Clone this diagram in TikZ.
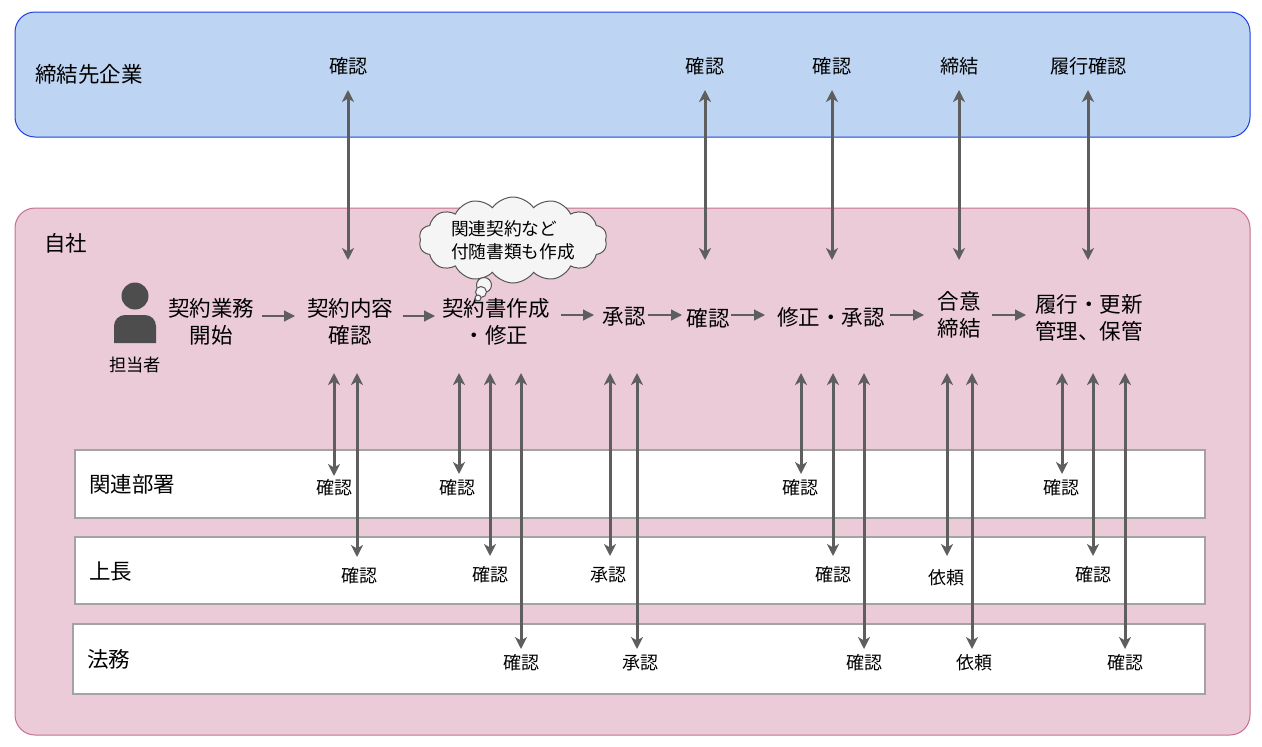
\documentclass[tikz,border=0pt]{standalone}
\usepackage{fontspec}
\setmainfont{Noto Sans CJK JP}
\usetikzlibrary{arrows.meta,shapes.symbols}
\definecolor{bluefill}{HTML}{BDD5F2}
\definecolor{blueline}{HTML}{1F3FE0}
\definecolor{pinkfill}{HTML}{EBCBD7}
\definecolor{pinkline}{HTML}{C4708F}
\definecolor{rowline}{HTML}{A3A3A3}
\definecolor{arrowgray}{HTML}{5E5E5E}
\definecolor{persongray}{HTML}{4D4D4D}
\definecolor{cloudfill}{HTML}{F5F5F5}
\definecolor{cloudline}{HTML}{555555}
\tikzset{
  area/.style={draw,rounded corners=20pt,line width=1pt},
  rowbox/.style={draw=rowline,fill=white,line width=1.6pt},
  stage/.style={font=\fontsize{21.5pt}{27pt}\selectfont,align=center,inner sep=0pt},
  head/.style={font=\fontsize{21.5pt}{27pt}\selectfont,anchor=west,inner sep=0pt},
  toplabel/.style={font=\fontsize{19.2pt}{23pt}\selectfont,inner sep=0pt},
  rowlabel/.style={font=\fontsize{18pt}{22pt}\selectfont,inner sep=0pt},
  bubble/.style={draw=cloudline,fill=cloudfill,line width=1pt,circle,inner sep=0pt},
  twoway/.style={{Stealth[length=12pt,width=12pt,inset=3.5pt]}-{Stealth[length=12pt,width=12pt,inset=3.5pt]},arrowgray,line width=3pt},
  flow/.style={-{Triangle[length=11pt,width=11pt]},arrowgray,line width=1.2pt}
}
\begin{document}
\begin{tikzpicture}[x=1pt,y=-1pt]
\useasboundingbox (0,0) rectangle (1262,747);

\draw[area,fill=bluefill,draw=blueline] (15,12) rectangle (1250,137);
\draw[area,fill=pinkfill,draw=pinkline] (15,208) rectangle (1250,735);

\draw[rowbox] (75,450) rectangle (1205,518);
\draw[rowbox] (75,537) rectangle (1205,604);
\draw[rowbox] (73,624) rectangle (1205,694);

\node[head] (kigyo) at (35,74) {締結先企業};
\node[head] (jisha) at (44,243) {自社};
\node[head] (kanren) at (89,484) {関連部署};
\node[head] (joucho) at (89,572) {上長};
\node[head] (houmu) at (87,659) {法務};

\foreach \nm/\x/\txt in {a/348.5/確認,b/705/確認,c/832/確認,d/959.5/締結,e/1088.5/履行確認}
\node[toplabel] (top\nm) at (\x,66) {\txt};

\fill[persongray] (135,296) circle (13.5);
\fill[persongray] (114,343) -- (114,331) [rounded corners=11pt] -- (114,315) -- (156,315) [sharp corners] -- (156,343) -- cycle;
\node[font=\fontsize{17.3pt}{21pt}\selectfont,inner sep=0pt] (tantou) at (135,365) {担当者};

\node[stage] (kaishi) at (211,322) {契約業務\\開始};
\node[stage] (naiyou) at (350,322) {契約内容\\確認};
\node[stage] (sakusei) at (496,322) {契約書作成\\・修正};
\node[stage] (shounin) at (624,317) {承認};
\node[stage] (kakunin) at (708,318) {確認};
\node[stage] (shusei) at (831,317) {修正・承認};
\node[stage] (goui) at (959,315) {合意\\締結};
\node[stage] (rikou) at (1089,318) {履行・更新\\管理、保管};

\foreach \nm/\xa/\xb/\y in {fa/262/295/316,fb/403/435/316,fc/561/594/315,fd/648/682/315,fe/731/765/315,ff/890/924/315,fg/992/1026/315}{
\coordinate (\nm s) at (\xa,\y);
\coordinate (\nm e) at (\xb,\y);
\draw[flow] (\nm s) -- (\nm e);
}

\node[cloud,draw=cloudline,fill=cloudfill,line width=1pt,cloud puffs=14,cloud puff arc=110,
  aspect=2.6,minimum width=188pt,minimum height=84pt,inner sep=0pt,
  font=\fontsize{17.7pt}{23pt}\selectfont,align=left] (kumo) at (513,240) {関連契約など\\付随書類も作成};
\node[bubble,minimum size=15pt] (awa) at (484,285) {};
\node[bubble,minimum size=11pt] (awb) at (481,292) {};
\node[bubble,minimum size=6pt] (awc) at (478,298) {};

\foreach \nm/\x in {ta/348,tb/705,tc/832,td/959,te/1088}{
\coordinate (\nm s) at (\x,90);
\coordinate (\nm e) at (\x,260);
\draw[twoway] (\nm s) -- (\nm e);
}

\foreach \nm/\x/\yb in {ma/334/476,mb/357/557,mc/459/474,md/490/556,me/521/649,mf/610/556,mg/637/649,mh/801/474,mi/833/556,mj/864/649,mk/947/556,ml/972/649,mm/1062/474,mn/1093/556,mo/1125/649}{
\coordinate (\nm s) at (\x,373);
\coordinate (\nm e) at (\x,\yb);
\draw[twoway] (\nm s) -- (\nm e);
}

\foreach \nm/\x/\y/\txt in {la/334/488/確認,lb/359/576/確認,lc/457/488/確認,ld/490/575/確認,le/521/663/確認,lf/608/575/承認,lg/640/663/承認,lh/800/488/確認,li/833/575/確認,lj/864/663/確認,lk/946/578/依頼,ll/974/663/依頼,lm/1061/488/確認,ln/1093/575/確認,lo/1125/663/確認}
\node[rowlabel] (\nm) at (\x,\y) {\txt};
\end{tikzpicture}
\end{document}
